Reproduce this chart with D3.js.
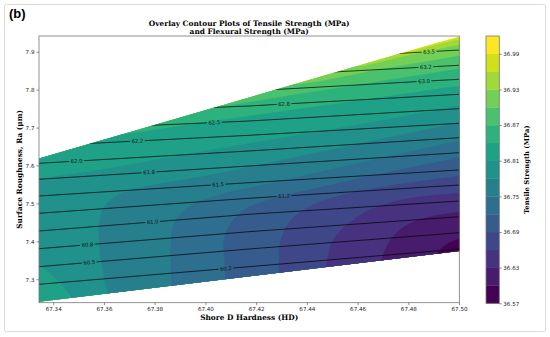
<!DOCTYPE html>
<html>
<head>
<meta charset="utf-8">
<script src="https://cdn.jsdelivr.net/npm/d3@7"></script>
<style>
  body { margin: 0; background: #fff; }
  svg { display: block; }
  .tick text { font-family: "DejaVu Sans", sans-serif; font-size: 5.6px; fill: #222; }
  .tick line { stroke: #444; stroke-width: 0.6; }
  .domain { display: none; }
  .ttl { font-family: "DejaVu Serif", serif; font-weight: bold; fill: #000; }
</style>
</head>
<body>
<svg id="chart" width="550" height="337"></svg>
<script>
/* axes */
const hExtent = [67.3344, 67.5001];
const raExtent = [7.2383, 7.9414];
const xTicks = [67.34, 67.36, 67.38, 67.40, 67.42, 67.44, 67.46, 67.48, 67.50];
const yTicks = [7.3, 7.4, 7.5, 7.6, 7.7, 7.8, 7.9];

/* area covered by the data (H, Ra) */
const regionHull = [[67.3344, 7.2409], [67.5001, 7.3746], [67.5001, 7.9407], [67.3344, 7.6185]];

/* tensile strength bands */
const tBarLevels = [36.57, 36.60, 36.63, 36.66, 36.69, 36.72, 36.75, 36.78, 36.81, 36.84, 36.87, 36.90, 36.93, 36.96, 36.99, 37.02];
const tTicks = [36.57, 36.63, 36.69, 36.75, 36.81, 36.87, 36.93, 36.99];
const tLevels = [36.60, 36.63, 36.66, 36.69, 36.72, 36.75, 36.78, 36.81, 36.84, 36.87, 36.90, 36.93, 36.96, 36.99];
// boundary of each level as (H, Ra)
const tEdges = [
  [[67.4902, 7.3456], [67.4918, 7.3720], [67.4953, 7.3931], [67.5000, 7.4062], [67.5044, 7.4142]],
  [[67.4689, 7.3377], [67.4705, 7.3720], [67.4736, 7.4089], [67.4788, 7.4405], [67.4866, 7.4616], [67.5000, 7.4774], [67.5044, 7.4828]],
  [[67.4472, 7.3113], [67.4480, 7.3456], [67.4504, 7.4036], [67.4567, 7.4484], [67.4657, 7.4854], [67.4791, 7.5117], [67.5000, 7.5275], [67.5044, 7.5328]],
  [[67.4291, 7.2929], [67.4291, 7.3509], [67.4295, 7.3957], [67.4338, 7.4563], [67.4425, 7.4959], [67.4527, 7.5196], [67.4724, 7.5460], [67.5000, 7.5723], [67.5044, 7.5776]],
  [[67.4082, 7.2771], [67.4078, 7.3377], [67.4074, 7.4036], [67.4101, 7.4484], [67.4160, 7.4854], [67.4263, 7.5117], [67.4460, 7.5433], [67.4728, 7.5829], [67.5000, 7.6198], [67.5044, 7.6251]],
  [[67.3869, 7.2665], [67.3865, 7.3377], [67.3865, 7.3983], [67.3880, 7.4511], [67.3940, 7.4933], [67.4042, 7.5196], [67.4263, 7.5539], [67.4610, 7.6066], [67.5000, 7.6646], [67.5044, 7.6699]],
  [[67.3624, 7.2454], [67.3600, 7.3113], [67.3585, 7.3720], [67.3581, 7.4405], [67.3604, 7.4933], [67.3671, 7.5275], [67.3778, 7.5460], [67.4003, 7.5723], [67.4492, 7.6409], [67.5000, 7.7121], [67.5044, 7.7173]],
  [[67.3309, 7.5592], [67.3344, 7.5644], [67.3585, 7.5882], [67.3979, 7.6356], [67.4373, 7.6804], [67.4689, 7.7173], [67.5000, 7.7569], [67.5044, 7.7622]],
  [[67.3585, 7.6830], [67.3663, 7.6817], [67.3979, 7.7121], [67.4373, 7.7490], [67.4689, 7.7793], [67.5000, 7.8096], [67.5044, 7.8136]],
  [[67.3959, 7.7516], [67.4038, 7.7535], [67.4373, 7.7885], [67.4689, 7.8217], [67.5000, 7.8544], [67.5044, 7.8589]],
  [[67.4295, 7.8254], [67.4354, 7.8149], [67.4689, 7.8531], [67.5000, 7.8887], [67.5044, 7.8937]],
  [[67.4531, 7.8729], [67.4590, 7.8610], [67.4807, 7.8914], [67.5000, 7.9177], [67.5044, 7.9238]],
  [[67.4720, 7.9045], [67.4768, 7.8953], [67.4886, 7.9140], [67.5000, 7.9322], [67.5044, 7.9391]],
  [[67.4894, 7.9309], [67.4925, 7.9262], [67.5000, 7.9383], [67.5044, 7.9454]]
];
// 36.81 also closes round the lower left corner
const tCorner = [[67.3309, 7.3509], [67.3344, 7.3377], [67.3395, 7.3113], [67.3439, 7.2823], [67.3474, 7.2507], [67.3486, 7.2296]];

/* flexural strength lines */
const flexLevels = [60.25, 60.5, 60.75, 61.0, 61.25, 61.5, 61.75, 62.0, 62.25, 62.5, 62.75, 63.0, 63.25, 63.5];
const flexLabels = ["60.2", "60.5", "60.8", "61.0", "61.2", "61.5", "61.8", "62.0", "62.2", "62.5", "62.8", "63.0", "63.2", "63.5"];
const flexH = [67.3344, 67.4172, 67.5001];
const flexRa = [
  [7.2868, 7.3332, 7.3799],
  [7.3332, 7.3799, 7.4229],
  [7.3807, 7.4255, 7.4650],
  [7.4273, 7.4714, 7.5064],
  [7.4740, 7.5136, 7.5486],
  [7.5196, 7.5547, 7.5882],
  [7.5636, 7.5987, 7.6338],
  [7.6058, 7.6383, 7.6733],
  [7.6514, 7.6796, 7.7113],
  [7.6928, 7.7173, 7.7498],
  [7.7345, 7.7569, 7.7877],
  [7.7752, 7.7964, 7.8273],
  [7.8149, 7.8347, 7.8642],
  [7.8544, 7.8729, 7.9045]
];
const flexLabelH = [67.4081, 67.3542, 67.3535, 67.3792, 67.4310, 67.4050, 67.3778, 67.3492, 67.3732, 67.4035, 67.4310, 67.4862, 67.4869, 67.4882];


const svg = d3.select("#chart");
const box = { l: 39, r: 459.3, t: 36, b: 302.7 };

const x = d3.scaleLinear().domain(hExtent).range([box.l, box.r]);
const y = d3.scaleLinear().domain(raExtent).range([box.b, box.t]);
const bandColor = i => d3.interpolateViridis(i / (tBarLevels.length - 2));

/* figure frame */
svg.append("rect")
    .attr("x", 4.5).attr("y", 4.5)
    .attr("width", 541).attr("height", 327)
    .attr("rx", 2)
    .attr("fill", "none")
    .attr("stroke", "#dcdcdc");

svg.append("text")
    .attr("x", 9).attr("y", 18)
    .style("font-family", "'Liberation Sans', Arial, sans-serif")
    .style("font-weight", "bold")
    .style("font-size", "13px")
    .text("(b)");

const defs = svg.append("defs");
const hullPath = "M" + regionHull.map(p => [x(p[0]), y(p[1])].join(",")).join("L") + "Z";
defs.append("clipPath").attr("id", "hull").append("path").attr("d", hullPath);

/* filled bands */
const smooth = d3.line()
    .x(p => x(p[0]))
    .y(p => y(p[1]))
    .curve(d3.curveCatmullRom.alpha(0.5));

const lowAt = h => {
    let a = regionHull[0], b = regionHull[1];
    return a[1] + (b[1] - a[1]) * (h - a[0]) / (b[0] - a[0]);
};
const far = { l: box.l - 15, r: box.r + 15, b: box.b + 20 };

// region below a level, closed outside the hull
function belowPath(edge, extra) {
    let first = edge[0], last = edge[edge.length - 1];
    let d = smooth(edge) + `L${far.r},${y(last[1])}L${far.r},${far.b}`;
    if (first[1] < lowAt(first[0])) {
        d += `L${x(first[0])},${far.b}Z`;
    } else if (extra) {
        let c = extra.slice().reverse();
        d += `L${x(c[0][0])},${far.b}` + smooth(c).replace(/^M/, "L") + `L${far.l},${y(first[1])}Z`;
    } else {
        d += `L${far.l},${far.b}L${far.l},${y(first[1])}Z`;
    }
    return d;
}

const fillG = svg.append("g").attr("clip-path", "url(#hull)");
fillG.append("path").attr("d", hullPath).attr("fill", bandColor(tBarLevels.length - 2));

for (let i = tLevels.length - 1; i >= 0; i--) {
    fillG.append("path")
        .attr("d", belowPath(tEdges[i], tLevels[i] === 36.81 ? tCorner : null))
        .attr("fill", bandColor(i))
        .attr("stroke", bandColor(i))
        .attr("stroke-width", 0.4);
}

/* flexural lines + inline labels */
const labelG = svg.append("g");
const mask = defs.append("mask").attr("id", "lblmask")
    .attr("maskUnits", "userSpaceOnUse")
    .attr("x", 0).attr("y", 0).attr("width", 550).attr("height", 337);
mask.append("rect").attr("width", 550).attr("height", 337).attr("fill", "#fff");

flexLevels.forEach((lv, i) => {
    let raAt = d3.scaleLinear().domain(flexH).range(flexRa[i]);
    let h = flexLabelH[i];
    let px = x(h), py = y(raAt(h));
    let ang = Math.atan2(y(raAt(h + 0.003)) - y(raAt(h - 0.003)), x(h + 0.003) - x(h - 0.003)) * 180 / Math.PI;
    let t = labelG.append("text")
        .attr("transform", `translate(${px},${py}) rotate(${ang})`)
        .attr("text-anchor", "middle")
        .attr("dy", "0.35em")
        .style("font-family", "'DejaVu Sans', sans-serif")
        .style("font-size", "5.3px")
        .style("fill", "#111")
        .text(flexLabels[i]);
    let w = t.node().getComputedTextLength() + 3;
    mask.append("rect")
        .attr("x", -w / 2).attr("y", -3)
        .attr("width", w).attr("height", 6)
        .attr("transform", `translate(${px},${py}) rotate(${ang})`)
        .attr("fill", "#000");
});

const lineG = svg.insert("g", "g:last-of-type")
    .attr("clip-path", "url(#hull)")
    .append("g")
    .attr("mask", "url(#lblmask)");

const flexLine = d3.line().x((d, j) => x(flexH[j])).y(d => y(d));
lineG.selectAll("path")
    .data(flexRa)
    .join("path")
    .attr("d", flexLine)
    .attr("fill", "none")
    .attr("stroke", "#000")
    .attr("stroke-width", 0.7);

/* frame + axes */
svg.append("rect")
    .attr("x", box.l).attr("y", box.t)
    .attr("width", box.r - box.l).attr("height", box.b - box.t)
    .attr("fill", "none").attr("stroke", "#777").attr("stroke-width", 0.8);

svg.append("g")
    .attr("transform", `translate(0,${box.b})`)
    .call(d3.axisBottom(x).tickValues(xTicks).tickFormat(d3.format(".2f")).tickSize(2.5).tickPadding(1.5));

svg.append("g")
    .attr("transform", `translate(${box.l},0)`)
    .call(d3.axisLeft(y).tickValues(yTicks).tickFormat(d3.format(".1f")).tickSize(2.5).tickPadding(2));

svg.append("text").attr("class", "ttl")
    .attr("x", (box.l + box.r) / 2).attr("y", 25.8)
    .attr("text-anchor", "middle").style("font-size", "7.4px")
    .text("Overlay Contour Plots of Tensile Strength (MPa)");
svg.append("text").attr("class", "ttl")
    .attr("x", (box.l + box.r) / 2).attr("y", 33.6)
    .attr("text-anchor", "middle").style("font-size", "7.4px")
    .text("and Flexural Strength (MPa)");

svg.append("text").attr("class", "ttl")
    .attr("x", (box.l + box.r) / 2).attr("y", 320)
    .attr("text-anchor", "middle").style("font-size", "7.4px")
    .text("Shore D Hardness (HD)");

svg.append("text").attr("class", "ttl")
    .attr("transform", `translate(22,${(box.t + box.b) / 2}) rotate(-90)`)
    .attr("text-anchor", "middle").style("font-size", "7.4px")
    .text("Surface Roughness, Ra (μm)");

/* colorbar */
const cb = { x: 486, w: 13.3 };
const c = d3.scaleLinear().domain([tBarLevels[0], tBarLevels[tBarLevels.length - 1]]).range([303.3, 36]);

svg.append("g").selectAll("rect")
    .data(d3.pairs(tBarLevels))
    .join("rect")
    .attr("x", cb.x)
    .attr("y", d => c(d[1]))
    .attr("width", cb.w)
    .attr("height", d => c(d[0]) - c(d[1]) + 0.3)
    .attr("fill", (d, i) => bandColor(i));

svg.append("rect")
    .attr("x", cb.x).attr("y", c.range()[1])
    .attr("width", cb.w).attr("height", c.range()[0] - c.range()[1])
    .attr("fill", "none").attr("stroke", "#777").attr("stroke-width", 0.8);

svg.append("g")
    .attr("transform", `translate(${cb.x + cb.w},0)`)
    .call(d3.axisRight(c).tickValues(tTicks).tickFormat(d3.format(".2f")).tickSize(2.5).tickPadding(1.5));

svg.append("text").attr("class", "ttl")
    .attr("transform", `translate(529,${(36 + 303.3) / 2}) rotate(-90)`)
    .attr("text-anchor", "middle").style("font-size", "6.8px")
    .text("Tensile Strength (MPa)");
</script>
</body>
</html>
